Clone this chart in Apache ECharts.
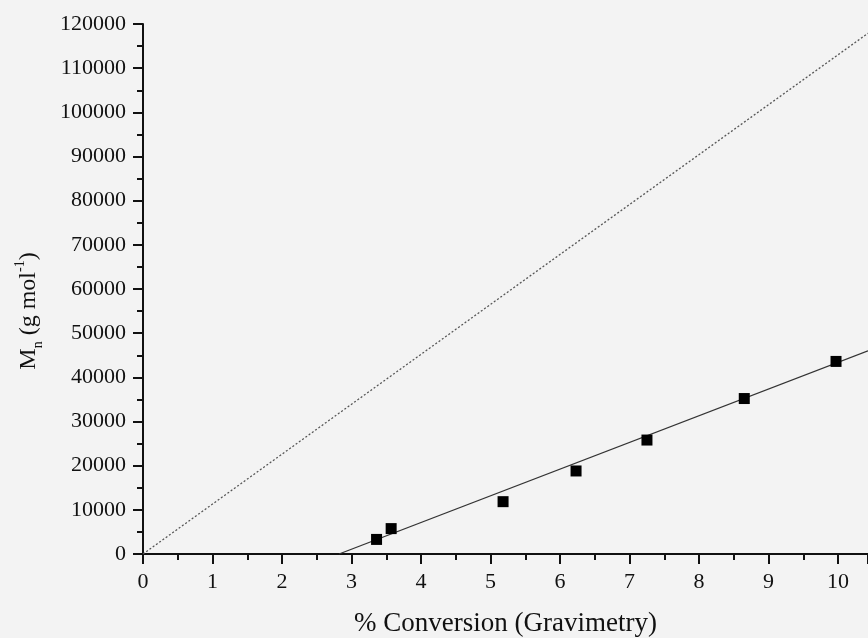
<!DOCTYPE html>
<html>
<head>
<meta charset="utf-8">
<script src="https://cdn.jsdelivr.net/npm/echarts@6/dist/echarts.min.js"></script>
<style>
html,body{margin:0;padding:0;background:#f3f3f3;}
#chart{width:868px;height:638px;}
</style>
</head>
<body>
<div id="chart"></div>
<script>
// Measured data points (% conversion, Mn)
var conversion = [3.36, 3.57, 5.18, 6.23, 7.25, 8.65, 9.97];
var mnValues = [3300, 5750, 11850, 18800, 25800, 35200, 43600];
// Linear fit line endpoints
var fitX = [2.82, 10.43];
var fitY = [0, 46000];
// Theoretical line endpoints (dotted)
var theoX = [0, 10.43];
var theoY = [0, 117900];
// Axis settings
var xMin = 0, xMax = 10.43, xStep = 1;
var yMin = 0, yMax = 120000, yStep = 10000;
var xTitle = '% Conversion (Gravimetry)';

function pairs(xs, ys){ return xs.map(function(x,i){ return [x, ys[i]]; }); }

var font = 'Liberation Serif';
var chart = echarts.init(document.getElementById('chart'), null, {renderer:'canvas'});
chart.setOption({
  backgroundColor: '#f3f3f3',
  animation: false,
  grid: {left: 143, right: 0, top: 24, bottom: 84, containLabel: false, outerBoundsMode: 'none'},
  xAxis: {
    type: 'value', min: xMin, max: xMax, interval: xStep,
    name: xTitle, nameLocation: 'middle', nameGap: 56,
    nameTextStyle: {fontFamily: font, fontSize: 27, color: '#111'},
    axisLine: {show: true, onZero: false, lineStyle: {color: '#111', width: 2}},
    axisTick: {show: true, inside: false, length: 10, lineStyle: {color: '#111', width: 2}},
    minorTick: {show: true, splitNumber: 2, length: 6, lineStyle: {color: '#111', width: 2}},
    splitLine: {show: false},
    axisLabel: {fontFamily: font, fontSize: 22, color: '#111', margin: 17,
      formatter: function(v){ return Math.abs(v - Math.round(v)) < 1e-6 ? String(Math.round(v)) : ''; }}
  },
  yAxis: {
    type: 'value', min: yMin, max: yMax, interval: yStep,
    name: '{a|M}{sub|n}{a| (g mol}{sup|-1}{a|)}',
    nameLocation: 'middle', nameGap: 98, nameRotate: 90,
    nameTextStyle: {
      fontFamily: font, fontSize: 24, color: '#111',
      padding: [0, 44, 0, 0],
      rich: {
        a: {fontFamily: font, fontSize: 24, color: '#111', lineHeight: 32, verticalAlign: 'middle'},
        sub: {fontFamily: font, fontSize: 14, color: '#111', lineHeight: 12, verticalAlign: 'bottom'},
        sup: {fontFamily: font, fontSize: 14, color: '#111', lineHeight: 16, verticalAlign: 'top'}
      }
    },
    axisLine: {show: true, onZero: false, lineStyle: {color: '#111', width: 2}},
    axisTick: {show: true, inside: false, length: 10, lineStyle: {color: '#111', width: 2}},
    minorTick: {show: true, splitNumber: 2, length: 6, lineStyle: {color: '#111', width: 2}},
    splitLine: {show: false},
    axisLabel: {fontFamily: font, fontSize: 22, color: '#111', margin: 17,
      formatter: function(v){ return String(v); }}
  },
  series: [
    {
      type: 'line', data: pairs(theoX, theoY), symbol: 'none',
      lineStyle: {color: '#555', width: 1.3, type: [2, 2]}, z: 1
    },
    {
      type: 'line', data: pairs(fitX, fitY), symbol: 'none',
      lineStyle: {color: '#333', width: 1.3, type: 'solid'}, z: 2
    },
    {
      type: 'scatter', data: pairs(conversion, mnValues), symbol: 'rect', symbolSize: 11,
      itemStyle: {color: '#000', opacity: 1}, z: 3
    }
  ]
});
</script>
</body>
</html>
